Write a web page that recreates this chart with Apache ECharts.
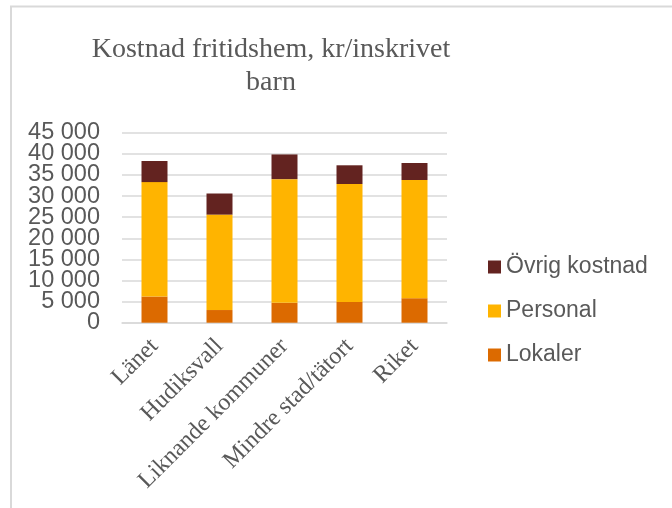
<!DOCTYPE html>
<html>
<head>
<meta charset="utf-8">
<script src="https://cdn.jsdelivr.net/npm/echarts@6/dist/echarts.min.js"></script>
<style>
  html, body { margin: 0; padding: 0; background: #fff; }
  #main { width: 672px; height: 508px; }
</style>
</head>
<body>
<div id="main"></div>
<script>
// data
var categories = ["Länet", "Hudiksvall", "Liknande kommuner", "Mindre stad/tätort", "Riket"];
var lokaler = [6200, 3000, 4700, 4900, 5800];
var personal = [27100, 22600, 29300, 27950, 28000];
var ovrig = [5000, 5000, 5850, 4430, 4030];
var yMax = 45000;
var yStep = 5000;

var myChart = echarts.init(document.getElementById("main"));

function fmt(v) {
  return String(v).replace(/\B(?=(\d{3})+(?!\d))/g, " ");
}

var labelStyle = {
  margin: 22,
  fontFamily: "Liberation Sans",
  fontSize: 23.5,
  color: "#595959",
};

var option = {
  animation: false,
  title: {
    text: "Kostnad fritidshem, kr/inskrivet\nbarn",
    left: 266,
    top: 28,
    textAlign: "center",
    textStyle: {
      fontFamily: "Liberation Serif",
      fontWeight: "normal",
      fontSize: 28,
      lineHeight: 33,
      color: "#595959",
    },
  },
  graphic: [
    {
      type: "polyline",
      shape: { points: [[11, 520], [11, 6.5], [680, 6.5]] },
      style: { stroke: "#D9D9D9", lineWidth: 2, fill: null },
    },
  ],
  legend: {
    data: ["Övrig kostnad", "Personal", "Lokaler"],
    orient: "vertical",
    left: 483,
    top: 250,
    itemWidth: 13,
    itemHeight: 13,
    itemGap: 20,
    icon: "rect",
    textStyle: {
      fontFamily: "Liberation Sans",
      fontSize: 23,
      lineHeight: 24,
      color: "#595959",
    },
  },
  grid: {
    left: 122,
    top: 132.7,
    width: 325,
    height: 190,
    containLabel: false,
  },
  xAxis: {
    type: "category",
    data: categories,
    axisTick: { show: false },
    axisLine: { lineStyle: { color: "#D9D9D9", width: 1.5 } },
    axisLabel: {
      interval: 0,
      rotate: 45,
      margin: 20,
      fontFamily: "Liberation Serif",
      fontSize: 24,
      color: "#595959",
    },
  },
  yAxis: [
    {
      // inner ticks (labels are tightly packed, so min/max go on a 2nd axis)
      type: "value",
      position: "left",
      min: 0,
      max: yMax,
      interval: yStep,
      axisLine: { show: false },
      axisTick: { show: false },
      splitLine: { lineStyle: { color: "#D9D9D9", width: 1.5 } },
      axisLabel: Object.assign({}, labelStyle, {
        showMinLabel: false,
        showMaxLabel: false,
        formatter: fmt,
      }),
    },
    {
      type: "value",
      position: "left",
      min: 0,
      max: yMax,
      interval: yStep,
      axisLine: { show: false },
      axisTick: { show: false },
      splitLine: { show: false },
      axisLabel: Object.assign({}, labelStyle, {
        showMinLabel: true,
        showMaxLabel: true,
        formatter: function (v) {
          return v === 0 || v === yMax ? fmt(v) : "";
        },
      }),
    },
  ],
  series: [
    {
      name: "Lokaler",
      type: "bar",
      stack: "total",
      barWidth: 26,
      itemStyle: { color: "#DC6A00" },
      data: lokaler,
    },
    {
      name: "Personal",
      type: "bar",
      stack: "total",
      itemStyle: { color: "#FFB400" },
      data: personal,
    },
    {
      name: "Övrig kostnad",
      type: "bar",
      stack: "total",
      itemStyle: { color: "#632320" },
      data: ovrig,
    },
  ],
};

myChart.setOption(option);
</script>
</body>
</html>
